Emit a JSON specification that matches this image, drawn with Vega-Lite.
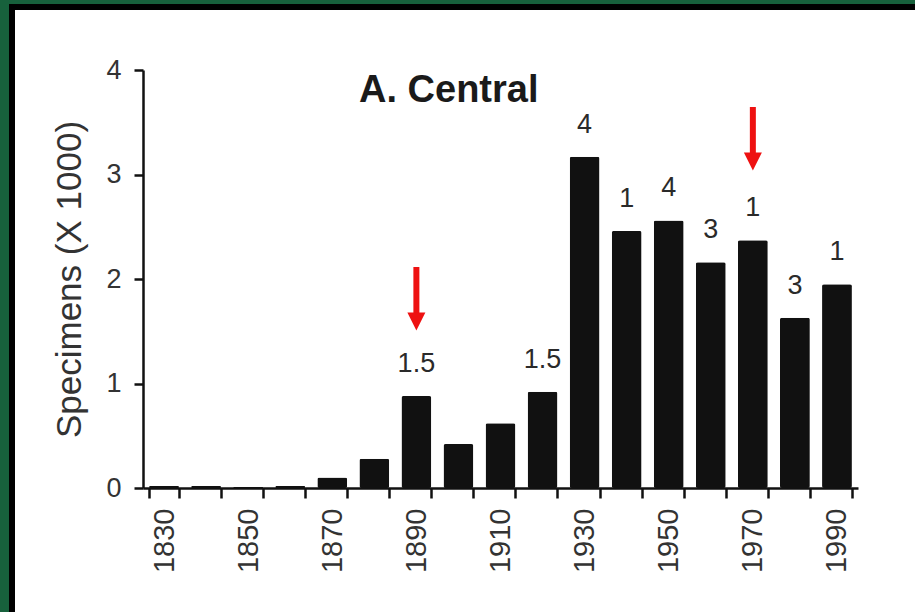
{
  "$schema": "https://vega.github.io/schema/vega-lite/v6.json",
  "autosize": "none",
  "width": 910,
  "height": 612,
  "padding": {"left": 12, "top": 7, "right": 0, "bottom": 0},
  "background": "#17613c",
  "config": {
    "view": {"fill": "white", "stroke": "black", "strokeWidth": 6},
    "font": "Liberation Sans",
    "axis": {
      "domainColor": "#111111",
      "tickColor": "#111111",
      "domainWidth": 2.5,
      "tickWidth": 2.5,
      "labelColor": "#333333",
      "titleColor": "#333333",
      "labelFont": "Liberation Sans",
      "titleFont": "Liberation Sans",
      "grid": false
    }
  },
  "title": {
    "text": "A. Central",
    "anchor": "start",
    "frame": "group",
    "dx": 347,
    "offset": -133,
    "baseline": "alphabetic",
    "fontSize": 38,
    "fontWeight": "bold",
    "color": "#1a1a1a",
    "font": "Liberation Sans"
  },
  "datasets": {
    "bars": [
      {"decade": "1830", "value": 0.02, "label": null},
      {"decade": "1840", "value": 0.02, "label": null},
      {"decade": "1850", "value": 0.01, "label": null},
      {"decade": "1860", "value": 0.02, "label": null},
      {"decade": "1870", "value": 0.10, "label": null},
      {"decade": "1880", "value": 0.28, "label": null},
      {"decade": "1890", "value": 0.88, "label": "1.5"},
      {"decade": "1900", "value": 0.42, "label": null},
      {"decade": "1910", "value": 0.62, "label": null},
      {"decade": "1920", "value": 0.92, "label": "1.5"},
      {"decade": "1930", "value": 3.17, "label": "4"},
      {"decade": "1940", "value": 2.46, "label": "1"},
      {"decade": "1950", "value": 2.56, "label": "4"},
      {"decade": "1960", "value": 2.16, "label": "3"},
      {"decade": "1970", "value": 2.37, "label": "1"},
      {"decade": "1980", "value": 1.63, "label": "3"},
      {"decade": "1990", "value": 1.95, "label": "1"}
    ],
    "arrows": [
      {"decade": "1890", "top": 2.115, "base": 1.66, "head": 1.593},
      {"decade": "1970", "top": 3.646, "base": 3.19, "head": 3.124}
    ]
  },
  "layer": [
    {
      "data": {"name": "bars"},
      "mark": {"type": "bar", "color": "#111111", "cornerRadius": 2},
      "encoding": {
        "x": {
          "field": "decade",
          "type": "ordinal",
          "scale": {"range": [131, 846], "paddingInner": 0.29, "paddingOuter": 0.145},
          "axis": {
            "title": null,
            "offset": -131,
            "tickBand": "extent",
            "labelAngle": 270,
            "labelExpr": "(+datum.value) % 20 == 10 ? datum.label : ''",
            "labelFontSize": 29,
            "labelPadding": 10,
            "tickSize": 10,
            "labelOverlap": false
          }
        },
        "y": {
          "field": "value",
          "type": "quantitative",
          "scale": {"domain": [0, 4], "range": [481, 63], "nice": false, "zero": true},
          "axis": {
            "title": "Specimens (X 1000)",
            "format": "d",
            "offset": -131,
            "values": [0, 1, 2, 3, 4],
            "tickSize": 9,
            "labelPadding": 13,
            "labelFontSize": 27,
            "titleFontSize": 35,
            "titleFontWeight": "normal",
            "titlePadding": 18
          }
        }
      }
    },
    {
      "data": {"name": "bars"},
      "transform": [{"filter": "datum.label != null"}],
      "mark": {"type": "text", "dy": -24, "baseline": "alphabetic", "fontSize": 27, "color": "#2a2a2a", "font": "Liberation Sans"},
      "encoding": {
        "x": {"field": "decade", "type": "ordinal"},
        "y": {"field": "value", "type": "quantitative"},
        "text": {"field": "label"}
      }
    },
    {
      "data": {"name": "arrows"},
      "mark": {"type": "rule", "color": "#ee1111", "strokeWidth": 6},
      "encoding": {
        "x": {"field": "decade", "type": "ordinal"},
        "y": {"field": "top", "type": "quantitative"},
        "y2": {"field": "base"}
      }
    },
    {
      "data": {"name": "arrows"},
      "mark": {"type": "point", "shape": "M-1,-1L1,-1L0,1Z", "filled": true, "color": "#ee1111", "size": 324, "opacity": 1, "strokeWidth": 0},
      "encoding": {
        "x": {"field": "decade", "type": "ordinal"},
        "y": {"field": "head", "type": "quantitative"}
      }
    }
  ]
}
